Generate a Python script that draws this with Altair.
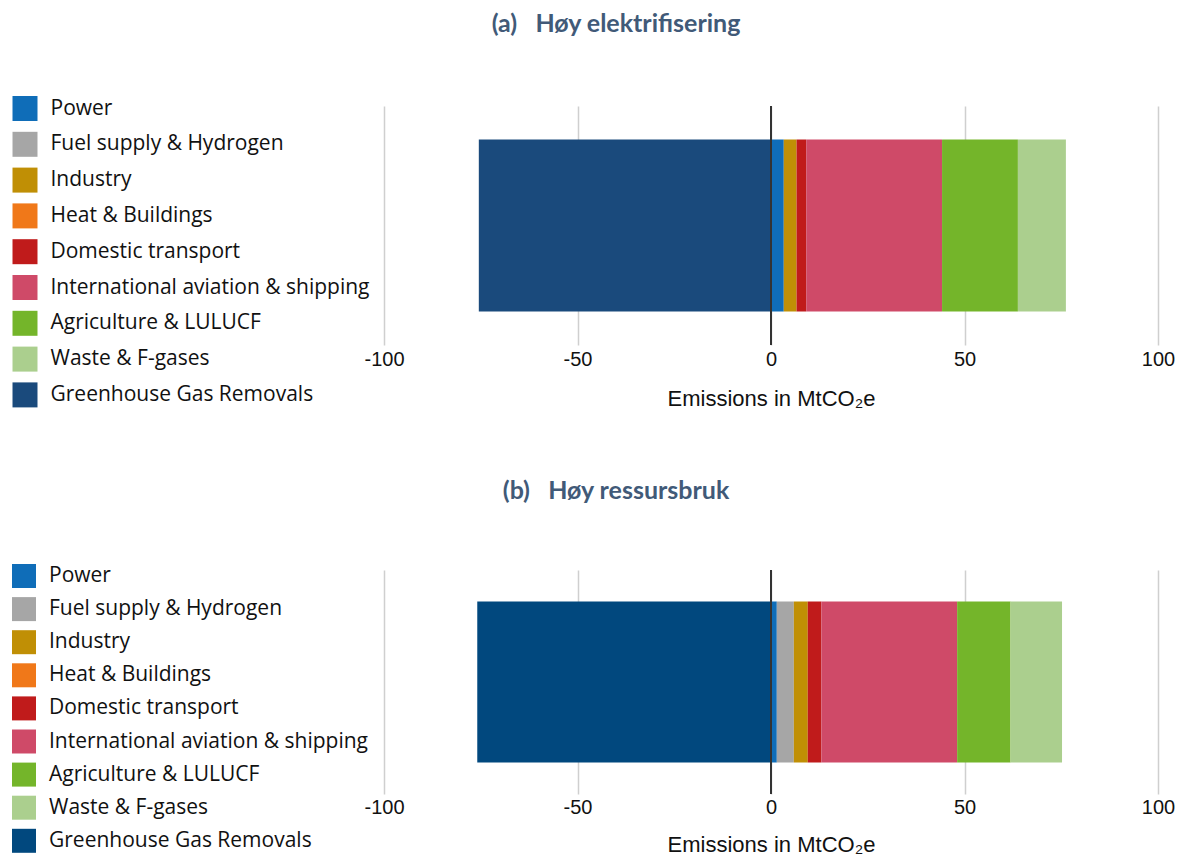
import altair as alt
import pandas as pd

sectors = [
    "Power",
    "Fuel supply & Hydrogen",
    "Industry",
    "Heat & Buildings",
    "Domestic transport",
    "International aviation & shipping",
    "Agriculture & LULUCF",
    "Waste & F-gases",
    "Greenhouse Gas Removals",
]
values_a = [3.3, 0.0, 3.3, 0.0, 2.5, 35.1, 19.6, 12.4, -75.5]
values_b = [1.5, 4.4, 3.6, 0.0, 3.5, 35.1, 13.8, 13.3, -75.9]
colors_a = ["#0f6db8", "#a6a6a6", "#c08f05", "#f07819", "#c01b1b",
            "#cf4a68", "#74b52a", "#abcf8e", "#1a4a7c"]
colors_b = ["#0f6db8", "#a6a6a6", "#c08f05", "#f07819", "#c01b1b",
            "#cf4a68", "#74b52a", "#abcf8e", "#01487e"]
tick_values = [-100, -50, 0, 50, 100]
title_a = "(a)\u00a0\u00a0\u00a0Høy elektrifisering"
title_b = "(b)\u00a0\u00a0\u00a0Høy ressursbruk"


def panel(title, vals, cols, h, sym, row_pad, leg_x, leg_y, title_off,
          lab_pad, tit_pad):
    df = pd.DataFrame({
        "sector": sectors,
        "value": vals,
        "idx": list(range(len(sectors))),
        "scenario": [title] * len(sectors),
    })
    x_axis = alt.Axis(
        values=tick_values, grid=True, gridColor="#cfcfcf", gridWidth=1.5,
        domain=False, ticks=False, labelFontSize=20, labelFont="Liberation Sans",
        labelColor="#111111", labelPadding=lab_pad, labelFlush=False,
        labelExpr="'' + datum.value",
        title="Emissions in MtCO₂e", titleFont="Liberation Sans",
        titleFontSize=22, titleFontWeight="normal", titleColor="#111111",
        titlePadding=tit_pad,
    )
    bars = alt.Chart(df).mark_bar().encode(
        x=alt.X("value:Q", stack="zero",
                scale=alt.Scale(domain=[-100, 100], nice=False, zero=False),
                axis=x_axis),
        y=alt.Y("scenario:N", axis=None,
                scale=alt.Scale(paddingOuter=0.195, paddingInner=0)),
        color=alt.Color(
            "sector:N",
            scale=alt.Scale(domain=sectors, range=cols),
            legend=alt.Legend(
                orient="none", legendX=leg_x, legendY=leg_y, title=None,
                symbolType="square", symbolSize=sym * sym, symbolStrokeWidth=0,
                symbolOpacity=1, labelFontSize=21, labelFont="Open Sans",
                labelColor="#111111", labelOffset=13, rowPadding=row_pad,
                padding=0, labelLimit=400,
            ),
        ),
        order=alt.Order("idx:Q"),
    )
    zero = alt.Chart(df).mark_rule(color="#333333", strokeWidth=2).encode(
        x=alt.datum(0)
    )
    return alt.layer(bars, zero).properties(
        width=774, height=h,
        title=alt.TitleParams(
            text=title, anchor="middle", frame="group", dx=-155,
            font="Lato", fontSize=25, fontWeight="bold", color="#415a78",
            offset=title_off,
        ),
    )


chart_a = panel(title_a, values_a, colors_a, 239, 25, 10.8, -371.5, -10, 59,
                4, 19)
chart_b = panel(title_b, values_b, colors_b, 224, 24, 9.1, -372, -6, 60,
                3, 17)

chart = alt.vconcat(chart_a, chart_b, spacing=70).resolve_scale(
    color="independent"
).resolve_legend(color="independent").properties(
    padding={"left": 4, "top": 4, "right": 0, "bottom": 0}
).configure_view(stroke=None)

chart.save("out.html", embed_options={"renderer": "svg", "actions": False})
